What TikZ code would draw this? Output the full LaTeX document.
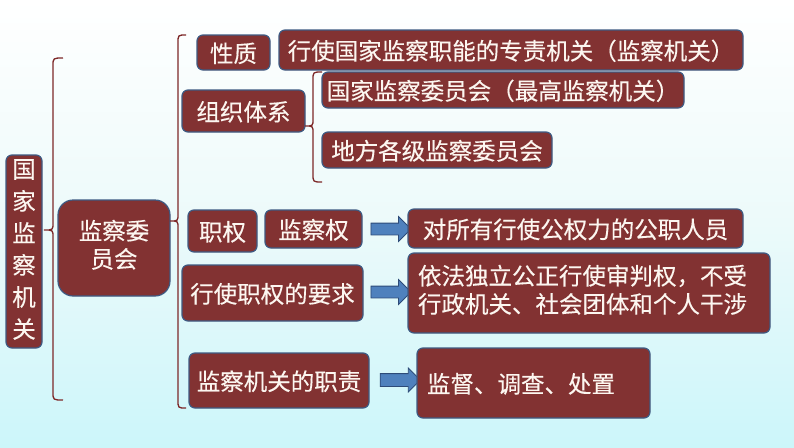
\documentclass[tikz,border=0pt]{standalone}
\usepackage{fontspec}
\setmainfont[FakeBold=0.3]{Noto Sans CJK SC}
\usetikzlibrary{shapes.arrows}
\definecolor{boxred}{RGB}{130,50,50}
\definecolor{boxedge}{RGB}{62,90,130}
\definecolor{txtc}{RGB}{252,246,240}
\definecolor{arrblue}{RGB}{79,129,189}
\definecolor{arredge}{RGB}{45,75,120}
\definecolor{brc}{RGB}{125,40,40}
\definecolor{bgbot}{RGB}{204,246,250}
\newcommand{\bracepath}[6]{% xend, xline, xtip, ytop, ytip, ybot
  (#1,#4) .. controls (#2,#4) .. (#2,{#4+8}) -- (#2,{#5-7})
  .. controls (#2,#5) .. (#3,#5) .. controls (#2,#5) .. (#2,{#5+7})
  -- (#2,{#6-8}) .. controls (#2,#6) .. (#1,#6)}
\newcommand{\lines}[3]{\raisebox{#1}{\begin{tabular}{@{}#2@{}}#3\end{tabular}}}
\begin{document}
\begin{tikzpicture}[x=1pt,y=-1pt,
  box/.style={draw=boxedge, line width=1.2pt, fill=boxred, rounded corners=6pt,
    text=txtc, font=\fontsize{23.5}{28}\selectfont, inner sep=0pt},
  oneline/.style={text height=21pt, text depth=1.5pt},
  barrow/.style={single arrow, draw=arredge, line width=0.8pt, fill=arrblue,
    inner xsep=0pt, single arrow tip angle=90},
  bracestyle/.style={draw=brc, line width=1.3pt}]
\shade[top color=white, bottom color=bgbot, middle color={rgb,255:red,236;green,250;blue,250}]
  (0,0) rectangle (794,447);
\useasboundingbox (0,0) rectangle (794,447);

% left column
\node[box, minimum width=36pt, minimum height=193pt, font=\fontsize{23.5}{32}\selectfont]
  (gjjc) at (24,251.5) {\lines{-3pt}{c}{国\\家\\监\\察\\机\\关}};
\draw[bracestyle] \bracepath{63}{53}{44}{58}{230}{400};
\node[box, rounded corners=15pt, minimum width=112pt, minimum height=96pt,
  font=\fontsize{23.5}{28}\selectfont] (jcwyh) at (114,248) {\lines{-5pt}{c}{监察委\\员会}};
\draw[bracestyle] \bracepath{186}{178}{170}{35}{221}{408};

% properties
\node[box, oneline, minimum width=73pt, minimum height=35pt] (xz) at (233.5,52.5) {性质};
\node[box, oneline, minimum width=464pt, minimum height=40pt] (xzd) at (511,50) {行使国家监察职能的专责机关（监察机关）};

% organization
\node[box, oneline, minimum width=123pt, minimum height=42pt] (zztx) at (243.5,111) {组织体系};
\draw[bracestyle] \bracepath{322}{313}{305}{72}{126}{182};
\node[box, oneline, minimum width=362pt, minimum height=36pt] (gjw) at (503,90) {国家监察委员会（最高监察机关）};
\node[box, oneline, minimum width=230pt, minimum height=36pt] (dfw) at (437,150) {地方各级监察委员会};

% powers
\node[box, oneline, minimum width=69pt, minimum height=42pt] (zq) at (222.5,231) {职权};
\node[box, oneline, minimum width=97pt, minimum height=38pt] (jcq) at (313.5,229) {监察权};
\node[barrow, minimum height=40pt, inner ysep=5.5pt, single arrow head extend=6.5pt] (a1) at (388,229) {};
\node[box, oneline, minimum width=335pt, minimum height=39pt] (dsy) at (575.5,228.5) {对所有行使公权力的公职人员};

% requirements
\node[box, oneline, minimum width=181pt, minimum height=56pt] (yq) at (272.5,293) {行使职权的要求};
\node[barrow, minimum height=40pt, inner ysep=5.5pt, single arrow head extend=6.5pt] (a2) at (388,292) {};
\node[box, minimum width=362pt, minimum height=80pt] (yf) at (589,293)
  {\makebox[342pt][l]{\lines{-4pt}{l}{依法独立公正行使审判权，不受\\行政机关、社会团体和个人干涉}}};

% duties
\node[box, oneline, minimum width=180pt, minimum height=55pt] (zz) at (279,380.5) {监察机关的职责};
\node[barrow, minimum height=40pt, inner ysep=6pt, single arrow head extend=5.5pt] (a3) at (397,380) {};
\node[box, oneline, minimum width=233pt, minimum height=70pt] (jd) at (533.5,383) {\makebox[213pt][l]{监督、调查、处置}};
\end{tikzpicture}
\end{document}
